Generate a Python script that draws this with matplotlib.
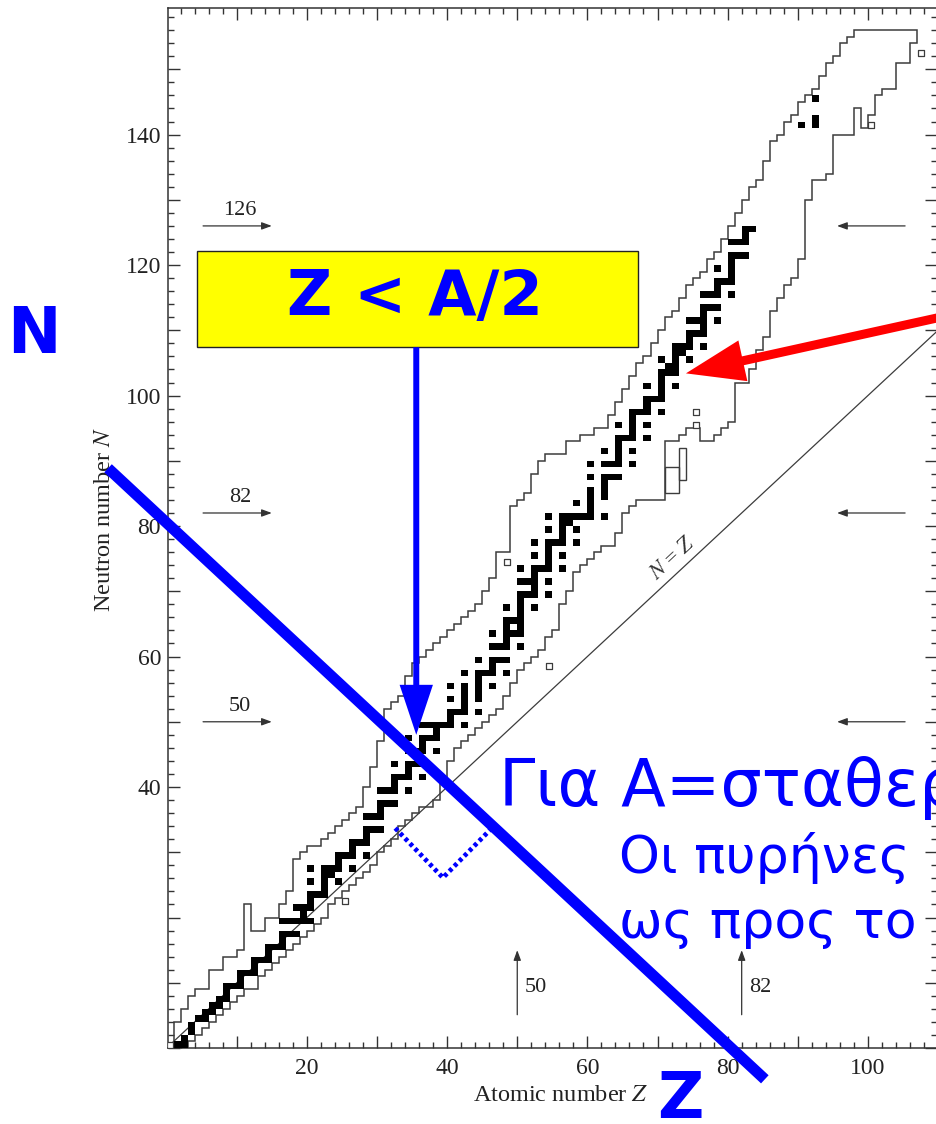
import numpy as np
import matplotlib
matplotlib.use("Agg")
import matplotlib.pyplot as plt
from matplotlib.patches import Rectangle, FancyArrowPatch, ArrowStyle
from matplotlib.ticker import MultipleLocator, FixedLocator, FuncFormatter

plt.rcParams["mathtext.fontset"] = "stix"

W, H = 937, 1124

# ---------------- chart of the nuclides -------------------------------------
# columns of known nuclides: heaviest and lightest known isotope for each Z
Z_COLS = np.arange(1, 107)
N_MAX = np.array([
    4, 6, 8, 9, 9, 12, 12, 14, 14, 15,
    22, 18, 18, 20, 20, 22, 24, 29, 30, 31,
    31, 32, 33, 34, 35, 36, 37, 40, 43, 47,
    52, 53, 54, 57, 59, 60, 61, 62, 63, 64,
    65, 66, 67, 68, 70, 72, 76, 76, 83, 84,
    85, 88, 90, 91, 91, 91, 93, 93, 94, 94,
    95, 95, 97, 99, 101, 103, 105, 106, 108, 110,
    112, 113, 115, 117, 118, 119, 121, 122, 124, 126,
    128, 130, 132, 133, 136, 139, 140, 142, 143, 145,
    146, 147, 149, 151, 152, 154, 155, 156, 156, 156,
    156, 156, 156, 156, 156, 156])
N_MIN = np.array([
    0, 1, 2, 3, 4, 5, 6, 7, 8, 9,
    10, 10, 12, 13, 14, 15, 16, 17, 18, 19,
    20, 21, 23, 24, 25, 26, 27, 28, 29, 31,
    32, 33, 35, 36, 37, 38, 38, 39, 42, 45,
    47, 48, 49, 50, 51, 52, 53, 55, 57, 59,
    60, 61, 62, 64, 65, 69, 71, 74, 75, 76,
    77, 78, 78, 80, 83, 84, 85, 85, 85, 85,
    94, 94, 95, 96, 96, 94, 94, 95, 96, 97,
    103, 103, 105, 108, 110, 114, 116, 118, 119, 122,
    131, 134, 134, 135, 141, 141, 141, 145, 142, 144,
    147, 148, 148, 152, 152, 155])

# stable isotopes (neutron numbers) for Z = 1 ... 83
STABLE_N = [
    [0, 1], [1, 2], [3, 4], [5], [5, 6], [6, 7], [7, 8], [8, 9, 10], [10],
    [10, 11, 12], [12], [12, 13, 14], [14], [14, 15, 16], [16],
    [16, 17, 18, 20], [18, 20], [18, 20, 22], [20, 21, 22],
    [20, 22, 23, 24, 26, 28], [24], [24, 25, 26, 27, 28], [27, 28],
    [26, 28, 29, 30], [30], [28, 30, 31, 32], [32], [30, 32, 33, 34, 36],
    [34, 36], [34, 36, 37, 38, 40], [38, 40], [38, 40, 41, 42, 44], [42],
    [40, 42, 43, 44, 46, 48], [44, 46], [42, 44, 46, 47, 48, 50], [48, 50],
    [46, 48, 49, 50], [50], [50, 51, 52, 54, 56], [52],
    [50, 52, 53, 54, 55, 56, 58], [], [52, 54, 55, 56, 57, 58, 60], [58],
    [56, 58, 59, 60, 62, 64], [60, 62], [58, 60, 62, 63, 64, 65, 66, 68],
    [64, 66], [62, 64, 65, 66, 67, 68, 69, 70, 72, 74], [70, 72],
    [68, 70, 71, 72, 73, 74, 76, 78], [74],
    [70, 72, 74, 75, 76, 77, 78, 80, 82], [78],
    [74, 76, 78, 79, 80, 81, 82], [81, 82], [78, 80, 82, 84], [82],
    [82, 83, 84, 85, 86, 88, 90], [], [82, 85, 86, 87, 88, 90, 92],
    [88, 90], [88, 90, 91, 92, 93, 94, 96], [94],
    [90, 92, 94, 95, 96, 97, 98], [98], [94, 96, 98, 99, 100, 102], [100],
    [98, 100, 101, 102, 103, 104, 106], [104, 105],
    [102, 104, 105, 106, 107, 108], [107, 108], [106, 108, 109, 110, 112],
    [110, 112], [108, 110, 111, 112, 113, 114, 116], [114, 116],
    [112, 114, 116, 117, 118, 120], [118],
    [116, 118, 119, 120, 121, 122, 124], [122, 124], [122, 124, 125, 126],
    [126]]
# long-lived thorium and uranium
HEAVY_Z = [90, 92, 92, 92]
HEAVY_N = [142, 142, 143, 146]

# isolated known nuclides (open squares)
LONE_Z = [0, 25, 48, 54, 75, 75, 100, 107]
LONE_N = [1, 23, 75, 59, 96, 98, 142, 153]

# isomer groups hanging below the band
ISO_Z = [71, 73]
ISO_W = [2, 1]
ISO_LO = [85, 87]
ISO_HI = [89, 92]

MAGIC_N = [50, 82, 126]
MAGIC_Z = [50, 82]

# ---------------- annotations ----------------------------------------------
A_ISOBAR = 80.5                       # the line Z + N = A
ISOBAR_Z = [-8.35, 85.3]
VALLEY_Z = [32.6, 39.4, 46.1]
VALLEY_N = [33.7, 26.1, 33.4]
BOX_Z = (4.35, 67.2)
BOX_N = (107.4, 122.1)
DOWN_ARROW_Z = 35.6
DOWN_ARROW_TIP = 48.0
RED_TAIL = (112.0, 112.4)
RED_TIP = (74.05, 103.4)

BLUE = "#0000ff"
RED = "#ff0000"
INK = "#3c3c3c"
SERIF = "Liberation Serif"
SANS = "DejaVu Sans"

fig = plt.figure(figsize=(W / 100, H / 100), dpi=100)
L, R, T, B = 168, 937, 8, 1048
ax = fig.add_axes([L / W, 1 - B / H, (R - L) / W, (B - T) / H])
ax.set_xlim(0.2, 109.85)
ax.set_ylim(0, 159.4)

for s in ax.spines.values():
    s.set_linewidth(1.1)
    s.set_color("#333333")

ax.xaxis.set_major_locator(FixedLocator(np.arange(0, 111, 10)))
ax.yaxis.set_major_locator(FixedLocator(np.arange(0, 161, 10)))
ax.xaxis.set_minor_locator(MultipleLocator(2))
ax.yaxis.set_minor_locator(MultipleLocator(2))
ax.xaxis.set_major_formatter(FuncFormatter(
    lambda v, p: f"{v:.0f}" if int(round(v)) in (20, 40, 60, 80, 100) else ""))
ax.yaxis.set_major_formatter(FuncFormatter(
    lambda v, p: f"{v:.0f}" if 40 <= v <= 140 and int(round(v)) % 20 == 0 else ""))
ax.tick_params(which="both", direction="in", top=True, right=True,
               color="#333333", width=1.0)
ax.tick_params(which="major", length=8.5)
ax.tick_params(which="minor", length=4.2)
ax.tick_params(axis="x", which="major", pad=7, labelsize=17, labelcolor="#222222")
ax.tick_params(axis="y", which="major", pad=5, labelsize=17, labelcolor="#222222")
for lab in ax.get_xticklabels() + ax.get_yticklabels():
    lab.set_family(SERIF)

# band of known nuclides
ax.stairs(N_MAX, np.append(Z_COLS, Z_COLS[-1] + 1), baseline=N_MIN - 1,
          fill=False, color=INK, lw=1.1, zorder=2)
ax.bar(ISO_Z, np.array(ISO_HI) - np.array(ISO_LO), width=ISO_W,
       bottom=ISO_LO, align="edge", fill=False, edgecolor=INK, lw=1.0, zorder=2)

# stable nuclides
sz = np.concatenate([np.full(len(ns), z) for z, ns in
                     zip(range(1, len(STABLE_N) + 1), STABLE_N)] + [HEAVY_Z])
sn = np.concatenate([np.asarray(ns, float) for ns in STABLE_N] + [HEAVY_N])
ax.bar(sz, 1, width=1, bottom=sn - 1, align="edge", color="black", lw=0, zorder=3)

ax.scatter(np.array(LONE_Z) + 0.5, np.array(LONE_N) - 0.5, marker="s", s=14,
           facecolor="white", edgecolor=INK, lw=0.9, zorder=3)

# N = Z line
ax.plot([0, 110], [0, 110], color=INK, lw=0.9, zorder=2)
ax.text(72.3, 75.0, "$N$ = $Z$", rotation=42.9, ha="center", va="center",
        fontsize=16, family=SERIF, color="#333333")

# magic numbers
arrow_kw = dict(arrowstyle="-|>,head_length=0.6,head_width=0.22",
                mutation_scale=10, color="#333333", lw=0.9,
                shrinkA=0, shrinkB=0)
for n in MAGIC_N:
    ax.annotate("", xy=(15.0, n), xytext=(5.2, n), arrowprops=arrow_kw)
    ax.annotate("", xy=(95.6, n), xytext=(105.3, n), arrowprops=arrow_kw)
    ax.text(10.5, n + 2.4, str(n), ha="center", va="center", fontsize=16,
            family=SERIF, color="#222222")
for z in MAGIC_Z:
    ax.annotate("", xy=(z, 15.0), xytext=(z, 5.1), arrowprops=arrow_kw)
    ax.text(z + 1.0, 9.3, str(z), ha="left", va="center", fontsize=16,
            family=SERIF, color="#222222")

ax.text(-8.9, 81.1, "Neutron number $N$", rotation=90, ha="center",
        va="center", fontsize=17.5, family=SERIF, color="#222222", clip_on=False)
ax.text(56.2, -7.3, "Atomic number $Z$", ha="center", va="center",
        fontsize=17.5, family=SERIF, color="#222222", clip_on=False)

# ---------------- overlays ---------------------------------------------------
ax.add_patch(Rectangle((BOX_Z[0], BOX_N[0]), BOX_Z[1] - BOX_Z[0],
                       BOX_N[1] - BOX_N[0], facecolor="#ffff00",
                       edgecolor="#222222", lw=1.0, zorder=6, clip_on=False))
ax.text(np.mean(BOX_Z) - 0.3, 112.4, "Z < A/2", ha="center", va="baseline",
        fontsize=45, fontweight="bold", family=SANS, color=BLUE, zorder=7)

ax.add_patch(FancyArrowPatch(
    (DOWN_ARROW_Z, BOX_N[0]), (DOWN_ARROW_Z, DOWN_ARROW_TIP),
    arrowstyle=ArrowStyle.Simple(head_length=36, head_width=24, tail_width=4.3),
    mutation_scale=1, color=BLUE, lw=0, shrinkA=0, shrinkB=0, zorder=7,
    clip_on=False))

iz = np.array(ISOBAR_Z)
ax.plot(iz, A_ISOBAR - iz, color=BLUE, lw=8, solid_capstyle="butt",
        zorder=6, clip_on=False)
ax.plot(VALLEY_Z, VALLEY_N, color=BLUE, lw=3.4, ls=(0, (0.8, 0.7)),
        dash_capstyle="butt", zorder=6, clip_on=False)

ax.add_patch(FancyArrowPatch(
    RED_TAIL, RED_TIP,
    arrowstyle=ArrowStyle.Simple(head_length=42, head_width=30, tail_width=6.5),
    mutation_scale=1, color=RED, lw=0, shrinkA=0, shrinkB=0, zorder=7,
    clip_on=False))


def fx(px):
    return px / W


def fy(py):
    return 1 - py / H


fig.text(fx(7), fy(353), "N", ha="left", va="baseline", fontsize=46,
         fontweight="bold", family=SANS, color=BLUE)
fig.text(fx(657), fy(1118), "Z", ha="left", va="baseline", fontsize=46,
         fontweight="bold", family=SANS, color=BLUE)
fig.text(fx(499), fy(806), "Για Α=σταθερό", ha="left", va="baseline",
         fontsize=47, family=SANS, color=BLUE)
fig.text(fx(619), fy(873), "Οι πυρήνες", ha="left", va="baseline",
         fontsize=37.5, family=SANS, color=BLUE)
fig.text(fx(619), fy(938), "ως προς το", ha="left", va="baseline",
         fontsize=37.5, family=SANS, color=BLUE)

fig.savefig("out.png", dpi=100)
